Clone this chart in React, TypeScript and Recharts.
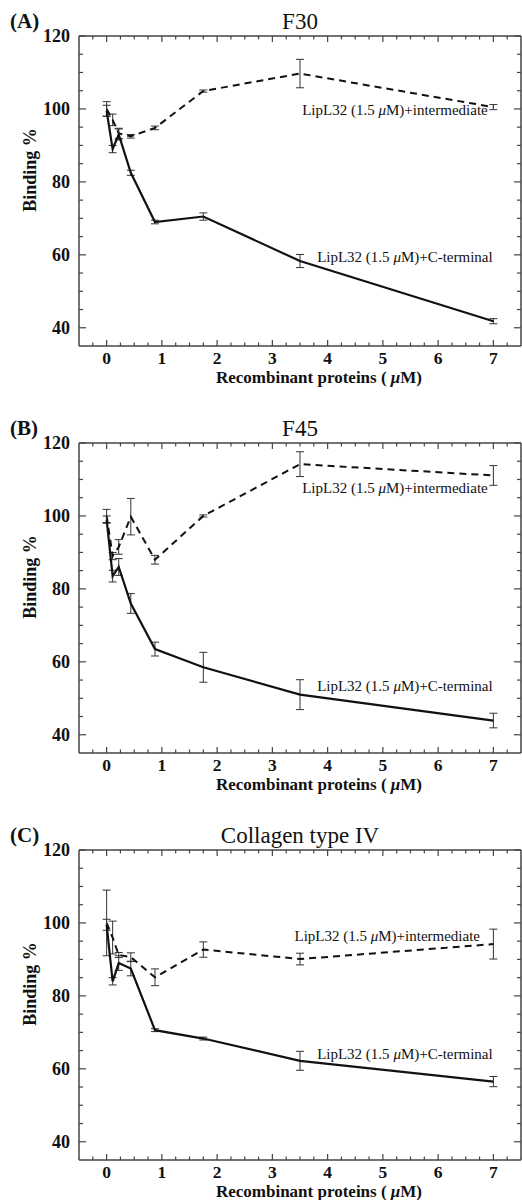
import React from 'react';
import { LineChart, Line, XAxis, YAxis, ErrorBar, ReferenceDot } from 'recharts';

// Recombinant protein concentrations (µM)
const CONC = [0, 0.109, 0.219, 0.4375, 0.875, 1.75, 3.5, 7];

// Panel A — F30
const A_CTERM = [99.5, 89, 93, 82.5, 69, 70.5, 58.3, 41.8];
const A_CTERM_ERR = [1.5, 1, 1.5, 0.7, 0.5, 1, 1.8, 0.7];
const A_INTER = [100, 97, 93.3, 92.5, 94.8, 104.9, 109.7, 100.5];
const A_INTER_ERR = [2, 1.6, 1.4, 0.5, 0.5, 0.3, 3.9, 0.7];

// Panel B — F45
const B_CTERM = [99, 83.5, 86, 76, 63.5, 58.5, 51, 43.9];
const B_CTERM_ERR = [1, 1.6, 2.3, 2.7, 1.9, 4.1, 4.1, 2];
const B_INTER = [100, 89, 91.5, 99.8, 88, 100, 114.2, 111.1];
const B_INTER_ERR = [1.8, 1, 2, 5, 1.2, 0.3, 3.4, 2.7];

// Panel C — Collagen type IV
const C_CTERM = [99.5, 84, 89, 87.5, 70.6, 68.3, 62.2, 56.5];
const C_CTERM_ERR = [1.5, 1, 2, 2, 0.4, 0.4, 2.6, 1.4];
const C_INTER = [100, 96, 91.2, 90.6, 85.1, 92.7, 90.1, 94.2];
const C_INTER_ERR = [9, 4.5, 0.7, 1.2, 2.3, 2.1, 1.6, 4.1];

// Tick values
const X_TICKS = [-0.25, 0, 0.25, 0.5, 0.75, 1, 1.25, 1.5, 1.75, 2, 2.25, 2.5, 2.75, 3, 3.25, 3.5, 3.75, 4, 4.25, 4.5, 4.75, 5, 5.25, 5.5, 5.75, 6, 6.25, 6.5, 6.75, 7, 7.25];
const X_LABELS = [0, 1, 2, 3, 4, 5, 6, 7];
const Y_TICKS = [40, 45, 50, 55, 60, 65, 70, 75, 80, 85, 90, 95, 100, 105, 110, 115, 120];
const Y_LABELS = [40, 60, 80, 100, 120];

const X_DOMAIN: [number, number] = [-0.5, 7.5];
const Y_DOMAIN: [number, number] = [35, 120];

const FONT = "'Liberation Serif', 'Times New Roman', serif";
const INK = '#111';
const AXIS = '#444';

const PANELS = [
  { letter: '(A)', title: 'F30', cterm: A_CTERM, ctermErr: A_CTERM_ERR, inter: A_INTER, interErr: A_INTER_ERR, interAt: [3.54, 99.7], ctermAt: [3.81, 59.5] },
  { letter: '(B)', title: 'F45', cterm: B_CTERM, ctermErr: B_CTERM_ERR, inter: B_INTER, interErr: B_INTER_ERR, interAt: [3.54, 107.7], ctermAt: [3.81, 53.4] },
  { letter: '(C)', title: 'Collagen type IV', cterm: C_CTERM, ctermErr: C_CTERM_ERR, inter: C_INTER, interErr: C_INTER_ERR, interAt: [3.4, 96.4], ctermAt: [3.81, 64.1] },
];

const isIn = (arr: number[], v: number) => arr.some((a) => Math.abs(a - v) < 1e-6);

const BottomTick = (props: any) => {
  const { x, y, payload } = props;
  const v = payload.value;
  const major = isIn(X_LABELS, v);
  return (
    <g>
      <line x1={x} x2={x} y1={y} y2={y - (major ? 6 : 3.5)} stroke={AXIS} strokeWidth={1.2} />
      {major && (
        <text x={x} y={y + 17.5} textAnchor="middle" fontFamily={FONT} fontWeight="bold" fontSize={17.5} fill={INK}>
          {v}
        </text>
      )}
    </g>
  );
};

const TopTick = (props: any) => {
  const { x, y, payload } = props;
  const major = isIn(X_LABELS, payload.value);
  return <line x1={x} x2={x} y1={y} y2={y + (major ? 6 : 3.5)} stroke={AXIS} strokeWidth={1.2} />;
};

const LeftTick = (props: any) => {
  const { x, y, payload } = props;
  const v = payload.value;
  const major = isIn(Y_LABELS, v);
  return (
    <g>
      <line x1={x} x2={x + (major ? 7 : 4)} y1={y} y2={y} stroke={AXIS} strokeWidth={1.2} />
      {major && (
        <text x={x - 9} y={y} dy="0.35em" textAnchor="end" fontFamily={FONT} fontWeight="bold" fontSize={18} fill={INK}>
          {v}
        </text>
      )}
    </g>
  );
};

const RightTick = (props: any) => {
  const { x, y, payload } = props;
  const major = isIn(Y_LABELS, payload.value);
  return <line x1={x} x2={x - (major ? 7 : 4)} y1={y} y2={y} stroke={AXIS} strokeWidth={1.2} />;
};

const XLabel = (props: any) => {
  const vb = props.viewBox;
  return (
    <text x={vb.x + vb.width / 2 + 19} y={vb.y + 36.5} textAnchor="middle" fontFamily={FONT} fontWeight="bold" fontSize={17} fill={INK}>
      Recombinant proteins ( <tspan fontStyle="italic">μ</tspan>M)
    </text>
  );
};

const YLabel = (props: any) => {
  const vb = props.viewBox;
  const cx = vb.x + 30;
  const cy = vb.y + vb.height / 2 - 21;
  return (
    <text x={cx} y={cy} transform={`rotate(-90 ${cx} ${cy})`} textAnchor="middle" dominantBaseline="central" fontFamily={FONT} fontWeight="bold" fontSize={18} fill={INK}>
      Binding %
    </text>
  );
};

const AnnLabel = (props: any) => {
  const vb = props.viewBox;
  return (
    <text x={vb.x} y={vb.y} dy="0.35em" textAnchor="start" fontFamily={FONT} fontSize={15} fill={INK}>
      LipL32 (1.5 <tspan fontStyle="italic">μ</tspan>M)+{props.suffix}
    </text>
  );
};

const Panel = ({ p, top }: { p: any; top: number }) => {
  const data = CONC.map((x, i) => ({
    x,
    c: p.cterm[i],
    cErr: p.ctermErr[i],
    m: p.inter[i],
    mErr: p.interErr[i],
  }));
  return (
    <div style={{ position: 'absolute', left: 0, top, width: 522, height: 407 }}>
      <LineChart width={522} height={407} data={data} margin={{ top: 0, right: 0, bottom: 0, left: 0 }}>
        <XAxis xAxisId="b" type="number" dataKey="x" domain={X_DOMAIN} allowDataOverflow ticks={X_TICKS} interval={0}
          tickSize={0} tickMargin={0} tick={BottomTick} height={61} axisLine={{ stroke: AXIS, strokeWidth: 1.5 }}
          label={<XLabel />} />
        <XAxis xAxisId="t" orientation="top" type="number" dataKey="x" domain={X_DOMAIN} allowDataOverflow ticks={X_TICKS} interval={0}
          tickSize={0} tickMargin={0} tick={TopTick} height={36} axisLine={{ stroke: AXIS, strokeWidth: 1.5 }} />
        <YAxis yAxisId="l" type="number" domain={Y_DOMAIN} allowDataOverflow ticks={Y_TICKS} interval={0}
          tickSize={0} tickMargin={0} tick={LeftTick} width={79} axisLine={{ stroke: AXIS, strokeWidth: 1.5 }}
          label={<YLabel />} />
        <YAxis yAxisId="r" orientation="right" type="number" domain={Y_DOMAIN} allowDataOverflow ticks={Y_TICKS} interval={0}
          tickSize={0} tickMargin={0} tick={RightTick} width={1} axisLine={{ stroke: AXIS, strokeWidth: 1.5 }} />
        <Line xAxisId="b" yAxisId="l" type="linear" dataKey="m" stroke={INK} strokeWidth={2} strokeDasharray="7 5" dot={false} isAnimationActive={false}>
          <ErrorBar dataKey="mErr" direction="y" width={4} stroke="#333" strokeWidth={1} />
        </Line>
        <Line xAxisId="b" yAxisId="l" type="linear" dataKey="c" stroke={INK} strokeWidth={2.2} dot={false} isAnimationActive={false}>
          <ErrorBar dataKey="cErr" direction="y" width={4} stroke="#333" strokeWidth={1} />
        </Line>
        <ReferenceDot xAxisId="b" yAxisId="l" x={p.interAt[0]} y={p.interAt[1]} r={0} fill="none" stroke="none" label={<AnnLabel suffix="intermediate" />} />
        <ReferenceDot xAxisId="b" yAxisId="l" x={p.ctermAt[0]} y={p.ctermAt[1]} r={0} fill="none" stroke="none" label={<AnnLabel suffix="C-terminal" />} />
      </LineChart>
      <svg width={522} height={40} style={{ position: 'absolute', left: 0, top: 0, pointerEvents: 'none' }}>
        <text x={10} y={28} fontFamily={FONT} fontWeight="bold" fontSize={21} fill={INK}>{p.letter}</text>
        <text x={300} y={29} textAnchor="middle" fontFamily={FONT} fontSize={23} fill={INK}>{p.title}</text>
      </svg>
    </div>
  );
};

export default function App() {
  return (
    <div style={{ position: 'absolute', left: 0, top: 0, width: 522, height: 1200, background: '#fff', overflow: 'hidden' }}>
      <Panel p={PANELS[0]} top={0} />
      <Panel p={PANELS[1]} top={407} />
      <Panel p={PANELS[2]} top={814} />
    </div>
  );
}
